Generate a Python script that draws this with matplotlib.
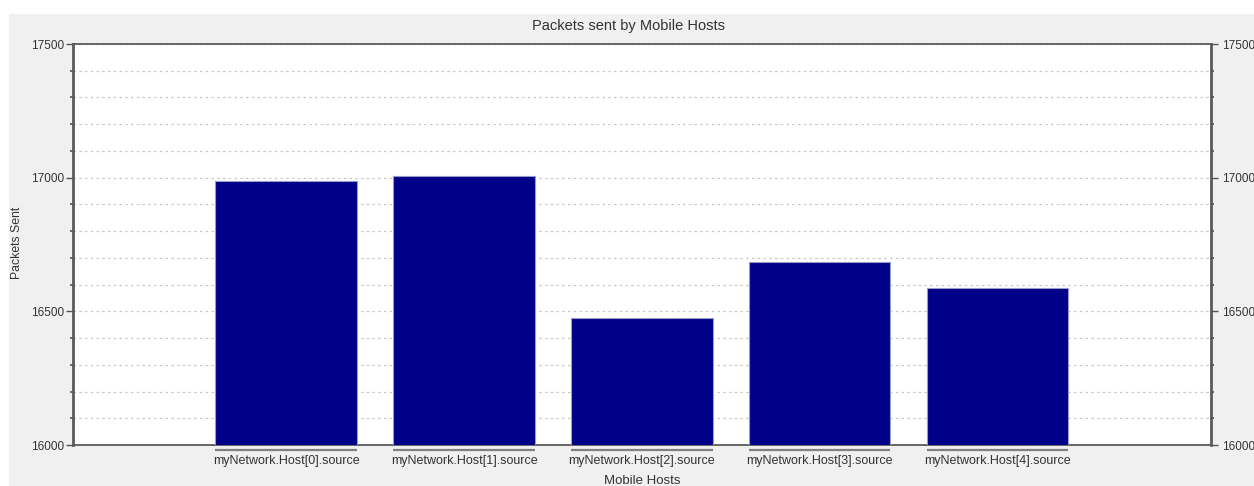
import matplotlib
matplotlib.use("Agg")
import matplotlib.pyplot as plt
from matplotlib.patches import Rectangle
from matplotlib.ticker import MultipleLocator

# Packets sent per mobile host
hosts = ["myNetwork.Host[0].source", "myNetwork.Host[1].source",
         "myNetwork.Host[2].source", "myNetwork.Host[3].source",
         "myNetwork.Host[4].source"]
packets = [16988, 17006, 16474, 16685, 16589]
y_ticks = [16000, 16500, 17000, 17500]

plt.rcParams["font.family"] = ["Liberation Sans", "DejaVu Sans"]
TXT = "#333333"

fig = plt.figure(figsize=(12.54, 4.86), dpi=100, facecolor="white")
W, H = 1254, 486

# light gray panel behind the chart
fig.patches.append(Rectangle((9 / W, 0), 1 - 9 / W, 1 - 14 / H,
                             transform=fig.transFigure, facecolor="#f0f0f0",
                             edgecolor="none", zorder=-10))

ax = fig.add_axes([72.7 / W, 1 - 445 / H, (1211 - 72.7) / W, (445 - 44) / H])
ax.set_facecolor("white")

x = list(range(len(hosts)))
ax.bar(x, packets, width=0.795, bottom=0, color="#000088",
       edgecolor="#9a9ac8", linewidth=0.8, zorder=3)

ax.set_xlim(-1.2, len(hosts) - 1 + 1.2)
ax.set_ylim(16000, 17500)

# y axis ticks and dotted grid every 100
ax.set_yticks(y_ticks)
ax.yaxis.set_minor_locator(MultipleLocator(100))
ax.grid(True, which="both", axis="y", color="#c8c8c8", linestyle=(0, (2.0, 2.6)),
        linewidth=0.9, zorder=0)
ax.tick_params(axis="y", which="major", length=5, width=1.0, color="#555555",
               labelsize=8.5, labelcolor=TXT, pad=1.5)
ax.tick_params(axis="y", which="minor", length=2.5, width=1.2, color="#555555")

# x axis categories with an underline below each bar
ax.set_xticks(x)
ax.set_xticklabels(hosts)
ax.tick_params(axis="x", length=0, labelsize=9, labelcolor=TXT, pad=7)
for xi in x:
    ax.plot([xi - 0.3975, xi + 0.3975], [-0.012, -0.012], color="#808080",
            linewidth=1.6, transform=ax.get_xaxis_transform(), clip_on=False,
            solid_capstyle="butt")

for side in ("left", "right"):
    ax.spines[side].set_color("#5a5a5a")
    ax.spines[side].set_linewidth(2.0)
for side in ("top", "bottom"):
    ax.spines[side].set_color("#5a5a5a")
    ax.spines[side].set_linewidth(1.3)

# mirrored axis on the right
ax2 = ax.twinx()
ax2.set_ylim(ax.get_ylim())
ax2.set_yticks(y_ticks)
ax2.yaxis.set_minor_locator(MultipleLocator(100))
ax2.tick_params(axis="y", which="major", length=5, width=1.0, color="#555555",
                labelsize=8.5, labelcolor=TXT, pad=3)
ax2.tick_params(axis="y", which="minor", length=2.5, width=1.2, color="#555555")
for s in ax2.spines.values():
    s.set_visible(False)

fig.text(629 / W, 1 - 26 / H, "Packets sent by Mobile Hosts", fontsize=10.5,
         color=TXT, ha="center", va="center")
fig.text(17 / W, 1 - 243 / H, "Packets Sent", fontsize=8.8, color=TXT,
         rotation=90, ha="center", va="center")
ax.set_xlabel("Mobile Hosts", fontsize=9.5, color=TXT, labelpad=6)

fig.savefig("out.png", dpi=100, facecolor=fig.get_facecolor())
